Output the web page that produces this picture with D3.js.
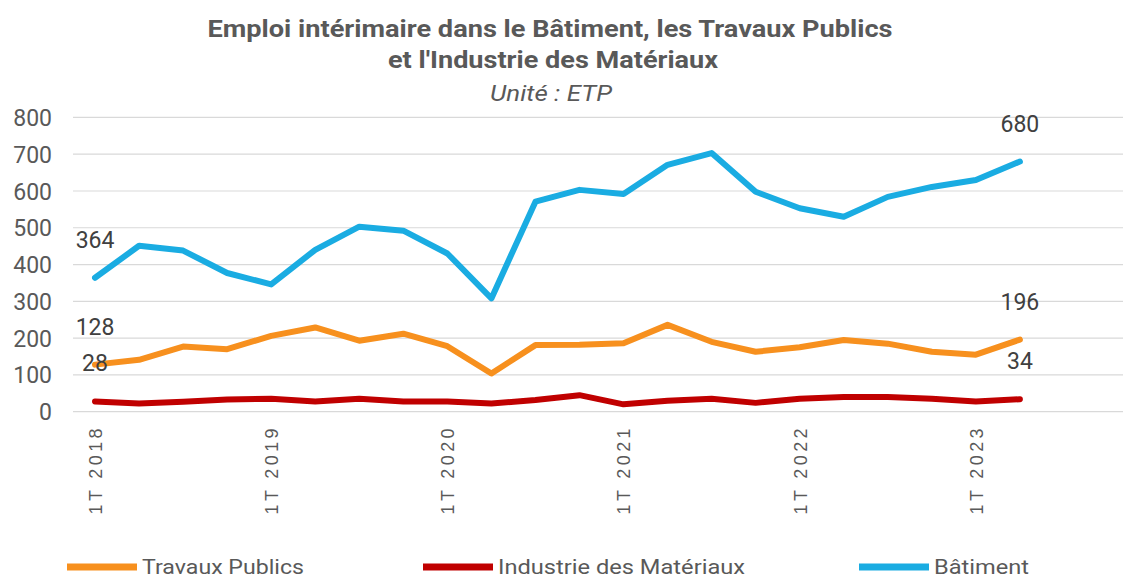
<!DOCTYPE html>
<meta charset="utf-8">
<script src="https://d3js.org/d3.v7.min.js"></script>
<style>
body { margin: 0; background: #fff; }
text { font-family: Roboto, "Noto Sans", sans-serif; }
</style>
<div id="chart"></div>
<script>
// quarters on the x axis (the last two are empty slots)
var quarters = ["1T 2018","2T 2018","3T 2018","4T 2018",
  "1T 2019","2T 2019","3T 2019","4T 2019",
  "1T 2020","2T 2020","3T 2020","4T 2020",
  "1T 2021","2T 2021","3T 2021","4T 2021",
  "1T 2022","2T 2022","3T 2022","4T 2022",
  "1T 2023","2T 2023","3T 2023","4T 2023"];

var batiment = [364, 451, 438, 377, 346, 440, 503, 492, 430, 308, 571, 603,
  592, 671, 703, 598, 553, 530, 584, 611, 630, 680];
var travauxPublics = [128, 141, 177, 170, 206, 229, 193, 212, 178, 104, 181, 182,
  186, 236, 190, 163, 175, 195, 185, 163, 155, 196];
var industrieMateriaux = [28, 22, 27, 33, 35, 28, 35, 28, 28, 22, 32, 45,
  20, 30, 35, 24, 35, 40, 40, 35, 28, 34];

var yTicks = [0, 100, 200, 300, 400, 500, 600, 700, 800];
var xTickLabels = ["1T 2018","1T 2019","1T 2020","1T 2021","1T 2022","1T 2023"];

var series = [
  {name: "Travaux Publics", values: travauxPublics, color: "#f7901e"},
  {name: "Industrie des Matériaux", values: industrieMateriaux, color: "#c00000"},
  {name: "Bâtiment", values: batiment, color: "#1aace2"}
];
// drawing order: red under orange under blue
var drawOrder = [series[1], series[0], series[2]];

var width = 1123, height = 580;

var svg = d3.select("#chart")
  .append("svg")
    .attr("width", width)
    .attr("height", height);

var x = d3.scalePoint()
  .domain(quarters)
  .range([73, 1130])
  .padding(0.5);

var y = d3.scaleLinear()
  .domain([0, 800])
  .range([411.7, 117.4]);

// gridlines
svg.append("g")
  .selectAll("line")
  .data(yTicks)
  .enter()
  .append("line")
    .attr("x1", 73)
    .attr("x2", width)
    .attr("y1", function(d) { return y(d); })
    .attr("y2", function(d) { return y(d); })
    .style("stroke", "#d9d9d9")
    .style("stroke-width", 1.2);

// y axis labels
var yAxis = svg.append("g")
  .attr("transform", "translate(60,0)")
  .call(d3.axisLeft(y).tickValues(yTicks).tickSize(0).tickPadding(8));
yAxis.select(".domain").remove();
yAxis.selectAll("text")
  .attr("x", -8)
  .attr("dy", "0.35em")
  .style("font-family", "Roboto, sans-serif")
  .style("font-size", "23px")
  .style("fill", "#595959");

// x axis labels (rotated)
var xAxis = svg.append("g")
  .attr("transform", "translate(0,418)")
  .call(d3.axisBottom(x).tickValues(xTickLabels).tickSize(0));
xAxis.select(".domain").remove();
xAxis.selectAll("text")
  .attr("transform", "rotate(-90)")
  .attr("x", -7)
  .attr("y", 0)
  .attr("dy", "0.35em")
  .style("text-anchor", "end")
  .style("font-family", "'Liberation Sans', Arial, sans-serif")
  .style("font-size", "18px")
  .style("letter-spacing", "3.4px")
  .style("fill", "#595959");

// lines
var line = d3.line()
  .x(function(d, i) { return x(quarters[i]); })
  .y(function(d) { return y(d); });

svg.append("g")
  .selectAll("path")
  .data(drawOrder)
  .enter()
  .append("path")
    .attr("d", function(d) { return line(d.values); })
    .style("fill", "none")
    .style("stroke", function(d) { return d.color; })
    .style("stroke-width", 6)
    .style("stroke-linejoin", "round")
    .style("stroke-linecap", "round");

// first and last values
var endLabels = [];
series.forEach(function(s) {
  var last = s.values.length - 1;
  endLabels.push({i: 0, v: s.values[0]});
  endLabels.push({i: last, v: s.values[last]});
});

svg.append("g")
  .selectAll("text")
  .data(endLabels)
  .enter()
  .append("text")
    .attr("x", function(d) { return x(quarters[d.i]); })
    .attr("y", function(d) { return y(d.v) - 30; })
    .style("text-anchor", "middle")
    .style("font-size", "23px")
    .style("fill", "#404040")
    .text(function(d) { return d.v; });

// title
svg.append("text")
  .attr("x", 550).attr("y", 37)
  .attr("text-anchor", "middle")
  .attr("textLength", 685).attr("lengthAdjust", "spacingAndGlyphs")
  .style("font-size", "24px").style("font-weight", "bold")
  .style("fill", "#595959")
  .text("Emploi intérimaire dans le Bâtiment, les Travaux Publics");
svg.append("text")
  .attr("x", 553).attr("y", 68)
  .attr("text-anchor", "middle")
  .attr("textLength", 330).attr("lengthAdjust", "spacingAndGlyphs")
  .style("font-size", "24px").style("font-weight", "bold")
  .style("fill", "#595959")
  .text("et l'Industrie des Matériaux");
svg.append("text")
  .attr("x", 551).attr("y", 101)
  .attr("text-anchor", "middle")
  .attr("textLength", 122).attr("lengthAdjust", "spacingAndGlyphs")
  .style("font-size", "22px").style("font-style", "italic")
  .style("fill", "#595959")
  .text("Unité : ETP");

// legend
var legendX = [67, 423, 859];
var legendW = [162, 247, 95];
var legend = svg.append("g")
  .selectAll("g")
  .data(series)
  .enter()
  .append("g")
    .attr("transform", function(d, i) { return "translate(" + legendX[i] + ",567)"; });
legend.append("line")
  .attr("x1", 0).attr("x2", 70)
  .style("stroke", function(d) { return d.color; })
  .style("stroke-width", 7);
legend.append("text")
  .attr("x", 75)
  .attr("y", 7)
  .attr("textLength", function(d, i) { return legendW[i]; })
  .attr("lengthAdjust", "spacingAndGlyphs")
  .style("font-size", "20px")
  .style("fill", "#595959")
  .text(function(d) { return d.name; });
</script>
